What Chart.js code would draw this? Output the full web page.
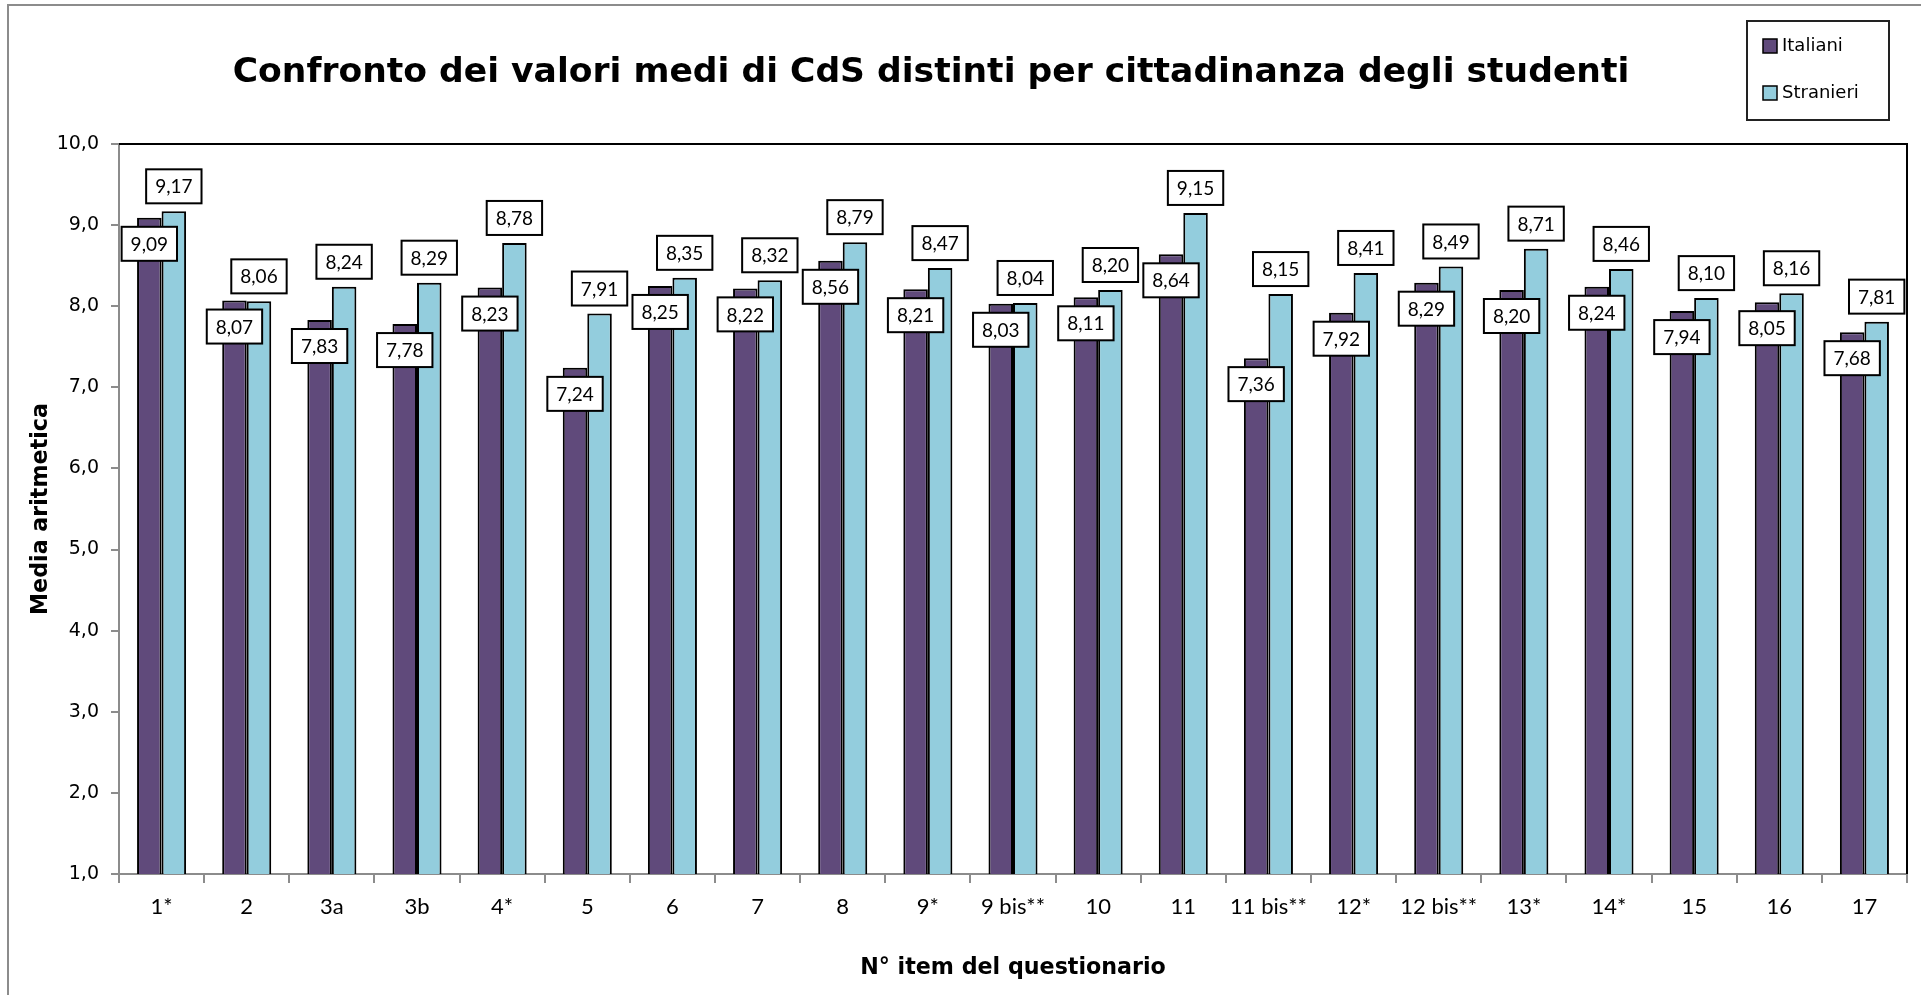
<!DOCTYPE html>
<html>
<head>
<meta charset="utf-8">
<title>Confronto dei valori medi</title>
<script src="https://cdn.jsdelivr.net/npm/chart.js@4.4.1/dist/chart.umd.min.js"></script>
<style>
  body { margin: 0; background: #fff; }
  #wrap { width: 1921px; height: 995px; position: relative; }
</style>
</head>
<body>
<div id="wrap"><canvas id="myChart" width="1921" height="995"></canvas></div>
<script>
const items = ["1*", "2", "3a", "3b", "4*", "5", "6", "7", "8", "9*", "9 bis**", "10", "11", "11 bis**", "12*", "12 bis**", "13*", "14*", "15", "16", "17"];
const italiani = [9.09, 8.07, 7.83, 7.78, 8.23, 7.24, 8.25, 8.22, 8.56, 8.21, 8.03, 8.11, 8.64, 7.36, 7.92, 8.29, 8.20, 8.24, 7.94, 8.05, 7.68];
const stranieri = [9.17, 8.06, 8.24, 8.29, 8.78, 7.91, 8.35, 8.32, 8.79, 8.47, 8.04, 8.20, 9.15, 8.15, 8.41, 8.49, 8.71, 8.46, 8.10, 8.16, 7.81];
const yTicks = [1, 2, 3, 4, 5, 6, 7, 8, 9, 10];

const titleText = "Confronto dei valori medi di CdS distinti per cittadinanza degli studenti";
const xTitle = "N° item del questionario";
const yTitle = "Media aritmetica";
const comic = "'Comic Sans MS', 'DejaVu Sans', sans-serif";
const calibri = "Lato, 'Open Sans', sans-serif";

const fmt = (v, d) => v.toFixed(d).replace(".", ",");

// font size that makes a text as wide as in the original
function fitSize(text, weight, family, width) {
    const c = document.createElement("canvas").getContext("2d");
    c.font = weight + " 100px " + family;
    return 100 * width / c.measureText(text).width;
}
const titleSize = fitSize(titleText, "bold", comic, 1397);
const axisTitleSize = fitSize(xTitle, "bold", comic, 306);

// white background, outer frame, chart title and black top/right border of plot
const frame = {
    id: "frame",
    beforeDraw(chart) {
        const ctx = chart.ctx;
        ctx.save();
        ctx.fillStyle = "#fff";
        ctx.fillRect(0, 0, chart.width, chart.height);
        ctx.strokeStyle = "#8c8c8c";
        ctx.lineWidth = 2;
        ctx.strokeRect(8, 5, chart.width + 20, chart.height + 20);
        ctx.fillStyle = "#000";
        ctx.font = "bold " + titleSize + "px " + comic;
        ctx.textAlign = "center";
        ctx.textBaseline = "middle";
        ctx.fillText(titleText, 931, 73);
        ctx.restore();
    },
    afterDraw(chart) {
        const a = chart.chartArea;
        const ctx = chart.ctx;
        ctx.save();
        ctx.strokeStyle = "#000";
        ctx.lineWidth = 2;
        ctx.beginPath();
        ctx.moveTo(a.left, a.top);
        ctx.lineTo(a.right, a.top);
        ctx.lineTo(a.right, a.bottom);
        ctx.stroke();
        ctx.restore();
    }
};

// boxed value labels
const valueBoxes = {
    id: "valueBoxes",
    afterDatasetsDraw(chart) {
        const ctx = chart.ctx;
        ctx.save();
        ctx.font = "19px " + calibri;
        ctx.textAlign = "center";
        ctx.textBaseline = "middle";
        chart.data.datasets.forEach((ds, i) => {
            const meta = chart.getDatasetMeta(i);
            meta.data.forEach((bar, j) => {
                const txt = fmt(ds.data[j], 2);
                const w = ctx.measureText(txt).width + 18;
                const h = 34;
                const cy = i === 0 ? bar.y + 26 : bar.y - 25;
                ctx.fillStyle = "#fff";
                ctx.fillRect(bar.x - w / 2, cy - h / 2, w, h);
                ctx.strokeStyle = "#000";
                ctx.lineWidth = 2;
                ctx.strokeRect(bar.x - w / 2, cy - h / 2, w, h);
                ctx.fillStyle = "#000";
                ctx.fillText(txt, bar.x, cy + 1);
            });
        });
        ctx.restore();
    }
};

// boxed legend top right
const boxLegend = {
    id: "boxLegend",
    afterDraw(chart) {
        const ctx = chart.ctx;
        ctx.save();
        ctx.strokeStyle = "#222";
        ctx.lineWidth = 2;
        ctx.strokeRect(1747, 21, 142, 99);
        ctx.font = "18px " + comic;
        ctx.textAlign = "left";
        ctx.textBaseline = "middle";
        chart.data.datasets.forEach((ds, i) => {
            const cy = 46 + i * 47;
            ctx.fillStyle = ds.backgroundColor;
            ctx.fillRect(1763, cy - 7, 14, 14);
            ctx.strokeStyle = "#000";
            ctx.lineWidth = 1.5;
            ctx.strokeRect(1763, cy - 7, 14, 14);
            ctx.fillStyle = "#000";
            ctx.fillText(ds.label, 1782, cy);
        });
        ctx.restore();
    }
};

const ctx = document.getElementById("myChart").getContext("2d");
const chart = new Chart(ctx, {
    type: "bar",
    data: {
        labels: items,
        datasets: [{
            label: "Italiani",
            data: italiani,
            backgroundColor: "#604A7B",
            borderColor: "#000",
            borderWidth: 2,
            categoryPercentage: 0.576,
            barPercentage: 1.0
        }, {
            label: "Stranieri",
            data: stranieri,
            backgroundColor: "#93CDDD",
            borderColor: "#000",
            borderWidth: 2,
            categoryPercentage: 0.576,
            barPercentage: 1.0
        }]
    },
    options: {
        responsive: false,
        animation: false,
        layout: { padding: { top: 144, right: 14, bottom: 0, left: 10 } },
        plugins: {
            legend: { display: false },
            title: { display: false },
            tooltip: { enabled: false }
        },
        scales: {
            x: {
                grid: { display: true, drawOnChartArea: false, drawTicks: true, tickLength: 9, color: "#8c8c8c", lineWidth: 2 },
                border: { color: "#8c8c8c", width: 2 },
                ticks: { color: "#000", font: { family: calibri, size: 22 }, padding: 11, maxRotation: 0, autoSkip: false },
                title: {
                    display: true,
                    text: xTitle,
                    color: "#000",
                    font: { family: comic, size: axisTitleSize, weight: "bold" },
                    padding: { top: 0, bottom: 13 }
                },
                afterFit(scale) { scale.height = 121; }
            },
            y: {
                min: 1,
                max: 10,
                afterBuildTicks(scale) { scale.ticks = yTicks.map(v => ({ value: v })); },
                grid: { display: true, drawOnChartArea: false, drawTicks: true, tickLength: 8, color: "#8c8c8c", lineWidth: 2 },
                border: { color: "#8c8c8c", width: 2 },
                ticks: { color: "#000", font: { family: comic, size: 19 }, padding: 12, callback: v => fmt(v, 1) },
                title: {
                    display: true,
                    text: yTitle,
                    color: "#000",
                    font: { family: comic, size: axisTitleSize, weight: "bold" },
                    padding: { top: 18, bottom: 0 }
                },
                afterFit(scale) { scale.width = 109; }
            }
        }
    },
    plugins: [frame, valueBoxes, boxLegend]
});
</script>
</body>
</html>
